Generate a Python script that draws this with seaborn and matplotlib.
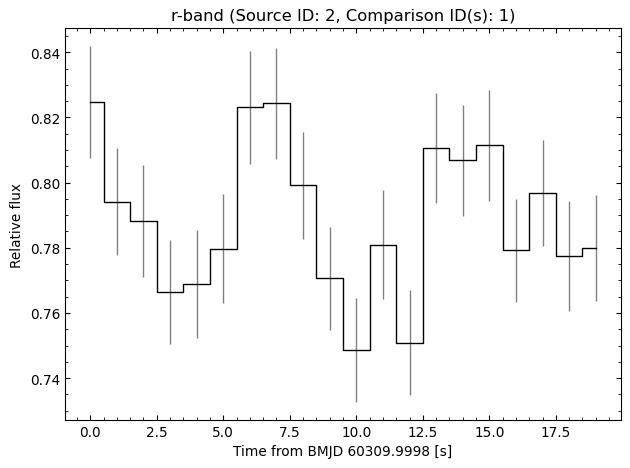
import numpy as np
import pandas as pd
import matplotlib
matplotlib.use("Agg")
import matplotlib.pyplot as plt
import seaborn as sns
from matplotlib.ticker import AutoMinorLocator

time_s = list(range(20))
flux = [0.8248, 0.7942, 0.7883, 0.7665, 0.7689, 0.7797, 0.8231, 0.8243, 0.7992, 0.7706,
        0.7486, 0.7809, 0.7508, 0.8106, 0.8068, 0.8114, 0.7792, 0.7967, 0.7775, 0.7800]
flux_err = [0.0172, 0.0164, 0.0172, 0.0159, 0.0166, 0.0167, 0.0173, 0.0171, 0.0164, 0.0158,
            0.0160, 0.0167, 0.0161, 0.0170, 0.0171, 0.0171, 0.0159, 0.0163, 0.0169, 0.0163]

df = pd.DataFrame({"t": time_s, "f": flux, "e": flux_err})

dpi = 98.44
fig, ax = plt.subplots(figsize=(630 / dpi, 469 / dpi), dpi=dpi)
ax.errorbar(df["t"], df["f"], yerr=df["e"], fmt="none", ecolor="gray", elinewidth=1.0)
sns.lineplot(data=df, x="t", y="f", ax=ax, drawstyle="steps-mid", color="black", linewidth=1.0)

ax.set_title("r-band (Source ID: 2, Comparison ID(s): 1)")
ax.set_xlabel("Time from BMJD 60309.9998 [s]")
ax.set_ylabel("Relative flux")
ax.xaxis.set_minor_locator(AutoMinorLocator())
ax.yaxis.set_minor_locator(AutoMinorLocator())
ax.tick_params(which="both", direction="in", top=True, right=True)
fig.subplots_adjust(left=65 / 630, right=621 / 630, top=1 - 29 / 469, bottom=1 - 421 / 469)
fig.savefig("out.png", dpi=dpi)
